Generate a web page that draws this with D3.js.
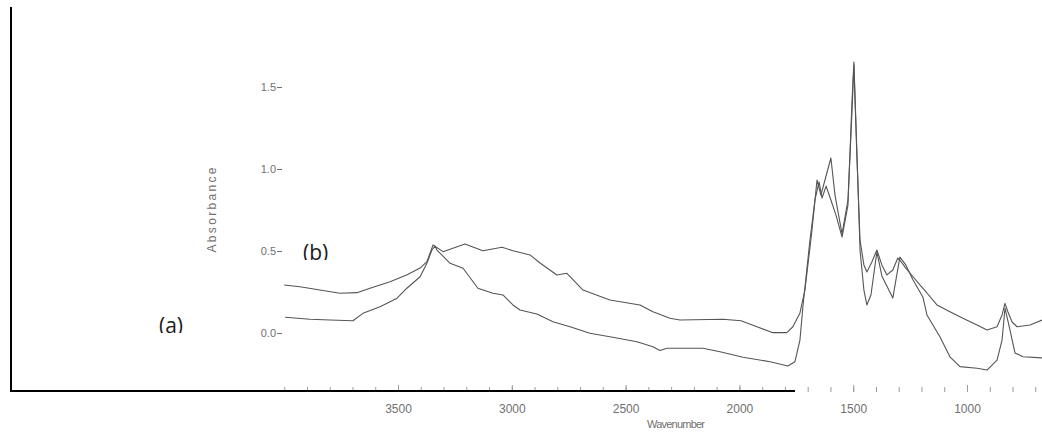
<!DOCTYPE html>
<html>
<head>
<meta charset="utf-8">
<script src="https://cdn.jsdelivr.net/npm/d3@7"></script>
<style>
  html, body { margin: 0; padding: 0; background: #fff; }
  svg { display: block; }
</style>
</head>
<body>
<svg id="chart" width="1042" height="437"></svg>
<script>
// FTIR spectra: wavenumber (cm-1) and absorbance for the two samples
const wavenumberB = [4000, 3931, 3843, 3755, 3680, 3623, 3535, 3462, 3403, 3373, 3346, 3302, 3206, 3127, 3043, 2995, 2920, 2876, 2802, 2758, 2687, 2569, 2437, 2380, 2305, 2261, 2072, 1993, 1923, 1853, 1792, 1765, 1734, 1712, 1681, 1659, 1642, 1624, 1598, 1580, 1549, 1523, 1505, 1497, 1484, 1470, 1453, 1440, 1418, 1396, 1374, 1352, 1326, 1304, 1295, 1269, 1237, 1207, 1176, 1132, 1075, 1018, 956, 912, 868, 846, 833, 820, 802, 780, 723, 670];
const absorbanceB = [0.293, 0.282, 0.262, 0.242, 0.246, 0.273, 0.313, 0.354, 0.396, 0.435, 0.537, 0.496, 0.543, 0.502, 0.523, 0.502, 0.476, 0.427, 0.354, 0.364, 0.262, 0.201, 0.171, 0.130, 0.090, 0.079, 0.084, 0.075, 0.038, 0.002, 0.002, 0.038, 0.122, 0.262, 0.628, 0.933, 0.841, 0.933, 1.067, 0.841, 0.604, 0.811, 1.360, 1.634, 1.085, 0.567, 0.415, 0.372, 0.433, 0.506, 0.415, 0.354, 0.384, 0.457, 0.445, 0.396, 0.343, 0.293, 0.244, 0.171, 0.130, 0.090, 0.049, 0.018, 0.038, 0.110, 0.181, 0.128, 0.067, 0.038, 0.049, 0.079];

const wavenumberA = [3996, 3886, 3799, 3698, 3654, 3579, 3504, 3461, 3403, 3373, 3351, 3337, 3329, 3271, 3214, 3149, 3083, 3039, 2995, 2964, 2890, 2819, 2744, 2657, 2569, 2450, 2380, 2349, 2318, 2261, 2160, 2085, 1984, 1865, 1787, 1756, 1734, 1721, 1690, 1668, 1650, 1637, 1619, 1598, 1576, 1549, 1523, 1505, 1497, 1484, 1470, 1453, 1440, 1422, 1396, 1374, 1339, 1326, 1295, 1269, 1237, 1194, 1176, 1119, 1075, 1031, 956, 912, 868, 846, 833, 811, 789, 754, 670];
const absorbanceA = [0.096, 0.084, 0.079, 0.075, 0.120, 0.160, 0.212, 0.273, 0.343, 0.425, 0.506, 0.530, 0.506, 0.425, 0.395, 0.273, 0.242, 0.232, 0.171, 0.140, 0.116, 0.069, 0.038, -0.002, -0.023, -0.053, -0.084, -0.107, -0.093, -0.093, -0.093, -0.114, -0.148, -0.175, -0.201, -0.175, -0.043, 0.160, 0.567, 0.811, 0.921, 0.823, 0.896, 0.811, 0.720, 0.585, 0.780, 1.421, 1.652, 1.116, 0.506, 0.262, 0.171, 0.232, 0.494, 0.348, 0.250, 0.213, 0.463, 0.415, 0.323, 0.220, 0.110, -0.023, -0.145, -0.205, -0.215, -0.226, -0.165, -0.043, 0.152, 0.018, -0.122, -0.145, -0.152];

const yTickValues = [0.0, 0.5, 1.0, 1.5];
const xMajorTicks = [3500, 3000, 2500, 2000, 1500, 1000];
const xMinorTicks = d3.range(4000, 650, -100);

const svg = d3.select("#chart");

const x = d3.scaleLinear().domain([4000, 1000]).range([284.2, 967]);
const y = d3.scaleLinear().domain([0, 1.5]).range([333, 87]);

const tickGrey = "#9a9a9a";
const textGrey = "#707070";

// Y axis: labels with a short dash as the tick
const yAxis = svg.append("g")
  .attr("transform", "translate(282,0)")
  .call(d3.axisLeft(y).tickValues(yTickValues).tickSize(5).tickPadding(1)
    .tickFormat(d3.format(".1f")));
yAxis.select(".domain").remove();
yAxis.selectAll(".tick line").attr("stroke", textGrey).attr("stroke-width", 1);
yAxis.selectAll(".tick text")
  .attr("fill", textGrey)
  .style("font-family", "'Liberation Sans', Arial, sans-serif")
  .style("font-size", "11px");

// X axis: minor ticks every 100, major ticks with labels every 500
const xMinor = svg.append("g")
  .attr("transform", "translate(0,392)")
  .call(d3.axisBottom(x).tickValues(xMinorTicks).tickSize(-5).tickFormat(""));
xMinor.select(".domain").remove();
xMinor.selectAll(".tick line").attr("stroke", tickGrey).attr("stroke-width", 1);

const xMajor = svg.append("g")
  .attr("transform", "translate(0,392)")
  .call(d3.axisBottom(x).tickValues(xMajorTicks).tickSize(-7).tickPadding(12)
    .tickFormat(d3.format("d")));
xMajor.select(".domain").remove();
xMajor.selectAll(".tick line").attr("stroke", tickGrey).attr("stroke-width", 1);
xMajor.selectAll(".tick text")
  .attr("fill", textGrey)
  .style("font-family", "'Liberation Sans', Arial, sans-serif")
  .style("font-size", "12px");

// Axis titles
svg.append("text")
  .attr("transform", "translate(216,210) rotate(-90)")
  .attr("text-anchor", "middle")
  .attr("textLength", 85)
  .attr("fill", textGrey)
  .style("font-family", "'Liberation Sans', Arial, sans-serif")
  .style("font-size", "12px")
  .text("Absorbance");

svg.append("text")
  .attr("x", 676)
  .attr("y", 428)
  .attr("text-anchor", "middle")
  .attr("textLength", 58)
  .attr("fill", textGrey)
  .style("font-family", "'Liberation Sans', Arial, sans-serif")
  .style("font-size", "11px")
  .text("Wavenumber");

// Spectra
const line = d3.line()
  .x(d => x(d[0]))
  .y(d => y(d[1]))
  .curve(d3.curveLinear);

const seriesB = d3.zip(wavenumberB, absorbanceB);
const seriesA = d3.zip(wavenumberA, absorbanceA);

svg.append("clipPath").attr("id", "plot-clip")
  .append("rect").attr("x", 280).attr("y", 0).attr("width", 762).attr("height", 392);

const spectra = svg.append("g").attr("clip-path", "url(#plot-clip)");
[seriesB, seriesA].forEach(s => {
  spectra.append("path")
    .datum(s)
    .attr("fill", "none")
    .attr("stroke", "#555")
    .attr("stroke-width", 1.1)
    .attr("stroke-linejoin", "round")
    .attr("d", line);
});

// Sample labels, trimmed at the baseline
const labels = [
  { text: "(b)", x: 303, y: 260 },
  { text: "(a)", x: 159, y: 333 }
];
labels.forEach((l, i) => {
  svg.append("clipPath").attr("id", "lab-clip-" + i)
    .append("rect").attr("x", l.x - 5).attr("y", l.y - 30).attr("width", 50).attr("height", 30);
  svg.append("text")
    .attr("x", l.x)
    .attr("y", l.y)
    .attr("clip-path", "url(#lab-clip-" + i + ")")
    .attr("fill", "#1a1a1a")
    .style("font-family", "'Open Sans', 'Noto Sans', sans-serif")
    .style("font-size", "21px")
    .text(l.text);
});

// Outer frame
svg.append("line")
  .attr("x1", 11).attr("x2", 11).attr("y1", 7).attr("y2", 392)
  .attr("stroke", "#000").attr("stroke-width", 2);
svg.append("line")
  .attr("x1", 10).attr("x2", 795).attr("y1", 391).attr("y2", 391)
  .attr("stroke", "#000").attr("stroke-width", 2);
</script>
</body>
</html>
